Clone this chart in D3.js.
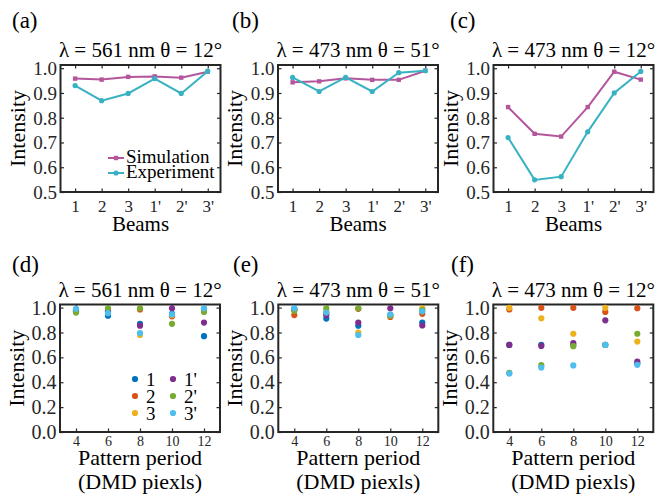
<!DOCTYPE html>
<html><head><meta charset="utf-8">
<script src="https://cdn.jsdelivr.net/npm/d3@7/dist/d3.min.js"></script>
<style>
body{margin:0;background:#fff;}
svg text{font-family:"Liberation Serif","Times New Roman",Times,"DejaVu Serif",serif !important;}
</style></head>
<body><svg id="c" width="660" height="500"></svg>
<script>
// ---- data ----
const beams = ["1","2","3","1'","2'","3'"];
const simA = [0.958,0.954,0.965,0.967,0.962,0.986];
const expA = [0.930,0.869,0.898,0.958,0.898,0.988];
const simB = [0.943,0.947,0.959,0.953,0.953,0.990];
const expB = [0.963,0.906,0.963,0.906,0.982,0.990];
const simC = [0.843,0.735,0.724,0.843,0.986,0.954];
const expC = [0.720,0.549,0.562,0.743,0.900,0.987];

const periods = [4,6,8,10,12];
const seriesNames = ["1","2","3","1'","2'","3'"];
// rows: series 1,2,3,1',2',3' ; columns: periods 4..12
const scatD = [
  [0.980,0.935,0.870,0.950,0.770],
  [0.970,0.970,0.985,0.930,0.990],
  [0.970,0.965,0.780,0.940,0.975],
  [0.980,0.975,0.855,0.995,0.880],
  [0.960,0.995,0.995,0.870,0.965],
  [0.990,0.955,0.795,0.945,0.995]
];
const scatE = [
  [0.990,0.912,0.855,0.940,0.880],
  [0.940,0.950,0.990,0.925,0.950],
  [0.980,0.970,0.800,0.935,0.995],
  [0.985,0.940,0.880,0.995,0.856],
  [0.975,0.995,0.995,0.935,0.980],
  [0.995,0.960,0.780,0.946,0.970]
];
const scatF = [
  [0.700,0.700,0.700,0.700,0.550],
  [0.985,0.998,0.998,0.965,0.995],
  [0.998,0.914,0.790,0.998,0.727],
  [0.700,0.692,0.715,0.898,0.565],
  [0.475,0.537,0.690,0.700,0.790],
  [0.470,0.518,0.535,0.700,0.540]
];
const yTicksTop = [0.5,0.6,0.7,0.8,0.9,1.0];
const yTicksBot = [0.0,0.2,0.4,0.6,0.8,1.0];

// ---- styles ----
const simColor = "#b4569c", expColor = "#38b2c2";
const scatColors = ["#0072BD","#D95319","#EDB120","#7E2F8E","#77AC30","#4DBEEE"];
const ink = "#262626";
const FONT = "'Liberation Serif','Times New Roman',Times,'DejaVu Serif',serif";

const svg = d3.select("#c");
const W = 160;

function box(g, x, y, h, xTicks, xFmt, yTicks, xFont, xPad, yFont) {
  const gx = g.append("g").attr("transform", `translate(0,${h})`)
    .call(d3.axisBottom(x).tickValues(xTicks).tickFormat(xFmt).tickSize(-3.5).tickPadding(xPad));
  gx.selectAll("text").style("font-size", xFont + "px");
  g.append("g").call(d3.axisTop(x).tickValues(xTicks).tickFormat("").tickSize(-3.5));
  const gy = g.append("g")
    .call(d3.axisLeft(y).tickValues(yTicks).tickFormat(d3.format(".1f")).tickSize(-3.5).tickPadding(3.5));
  gy.selectAll("text").style("font-size", yFont + "px").attr("dy", "0.33em");
  g.append("g").attr("transform", `translate(${W},0)`)
    .call(d3.axisRight(y).tickValues(yTicks).tickFormat("").tickSize(-3.5));
  g.selectAll(".domain").remove();
  g.selectAll("g").attr("font-family", FONT);
  g.selectAll(".tick line").attr("stroke", ink).attr("stroke-width", 1.2);
  g.selectAll(".tick text").attr("fill", ink);
  g.append("rect").attr("x", 0).attr("y", 0).attr("width", W).attr("height", h)
    .attr("fill", "none").attr("stroke", ink).attr("stroke-width", 2);
}

function texts(left, top, h, label, labelX, labelY, title, titleY) {
  svg.append("text").attr("x", labelX).attr("y", labelY).text(label)
    .style("font-size", "23px").attr("fill", "#000");
  svg.append("text").attr("x", left + W / 2).attr("y", titleY).attr("text-anchor", "middle")
    .text(title).style("font-size", "21px").attr("fill", "#000");
  svg.append("text").attr("transform", `translate(${left - 36},${top + h / 2}) rotate(-90)`)
    .attr("text-anchor", "middle").text("Intensity").style("font-size", "22px").attr("fill", "#000");
}

// ---- top row ----
const topPanels = [
  {left: 60.5, label: "(a)", lx: 12, title: "λ = 561 nm θ = 12°", sim: simA, exp: expA, legend: true},
  {left: 278, label: "(b)", lx: 232, title: "λ = 473 nm θ = 51°", sim: simB, exp: expB},
  {left: 493.5, label: "(c)", lx: 450, title: "λ = 473 nm θ = 12°", sim: simC, exp: expC}
];
const topY = 65, topH = 127;
topPanels.forEach(p => {
  const g = svg.append("g").attr("transform", `translate(${p.left},${topY})`);
  const x = d3.scaleLinear().domain([0.45, 6.48]).range([0, W]);
  const y = d3.scaleLinear().domain([0.5, 1.013]).range([topH, 0]);
  box(g, x, y, topH, [1,2,3,4,5,6], (d) => beams[d - 1], yTicksTop, 17, 8, 19);
  const line = d3.line().x((d, i) => x(i + 1)).y(d => y(d));
  g.append("path").datum(p.sim).attr("d", line).attr("fill", "none")
    .attr("stroke", simColor).attr("stroke-width", 2);
  g.selectAll(".sq").data(p.sim).enter().append("rect")
    .attr("x", (d, i) => x(i + 1) - 2.2).attr("y", d => y(d) - 2.2)
    .attr("width", 4.4).attr("height", 4.4).attr("fill", simColor);
  g.append("path").datum(p.exp).attr("d", line).attr("fill", "none")
    .attr("stroke", expColor).attr("stroke-width", 2);
  g.selectAll(".dt").data(p.exp).enter().append("circle")
    .attr("cx", (d, i) => x(i + 1)).attr("cy", d => y(d)).attr("r", 2.6).attr("fill", expColor);
  texts(p.left, topY, topH, p.label, p.lx, 28, p.title, 57);
  svg.append("text").attr("x", p.left + W / 2).attr("y", 231).attr("text-anchor", "middle")
    .text("Beams").style("font-size", "21px").attr("fill", "#000");
  if (p.legend) {
    const lg = svg.append("g");
    [["Simulation", simColor, "sq", 158], ["Experiment", expColor, "dt", 173]].forEach(r => {
      lg.append("line").attr("x1", 108).attr("x2", 124).attr("y1", r[3]).attr("y2", r[3])
        .attr("stroke", r[1]).attr("stroke-width", 2);
      if (r[2] === "sq") lg.append("rect").attr("x", 113.8).attr("y", r[3] - 2.2).attr("width", 4.4).attr("height", 4.4).attr("fill", r[1]);
      else lg.append("circle").attr("cx", 116).attr("cy", r[3]).attr("r", 2.6).attr("fill", r[1]);
      lg.append("text").attr("x", 126).attr("y", r[3] + 5).text(r[0]).style("font-size", "19px").attr("fill", "#000");
    });
  }
});

// ---- bottom row ----
const botPanels = [
  {left: 60, label: "(d)", lx: 12, title: "λ = 561 nm θ = 12°", data: scatD, legend: true},
  {left: 278.3, label: "(e)", lx: 233, title: "λ = 473 nm θ = 51°", data: scatE},
  {left: 493.3, label: "(f)", lx: 451, title: "λ = 473 nm θ = 12°", data: scatF}
];
const botY = 304.5, botH = 127.5;
botPanels.forEach(p => {
  const g = svg.append("g").attr("transform", `translate(${p.left},${botY})`);
  const x = d3.scaleLinear().domain([3, 13]).range([0, W]);
  const y = d3.scaleLinear().domain([0, 1.025]).range([botH, 0]);
  box(g, x, y, botH, periods, d3.format("d"), yTicksBot, 14, 4.5, 20);
  p.data.forEach((vals, s) => {
    g.selectAll(".s" + s).data(vals).enter().append("circle")
      .attr("cx", (d, i) => x(periods[i])).attr("cy", d => y(d)).attr("r", 3.1)
      .attr("fill", scatColors[s]);
  });
  texts(p.left, botY, botH, p.label, p.lx, 272, p.title, 297);
  svg.append("text").attr("x", p.left + W / 2).attr("y", 465).attr("text-anchor", "middle")
    .text("Pattern period").style("font-size", "22px").attr("fill", "#000");
  svg.append("text").attr("x", p.left + W / 2).attr("y", 489).attr("text-anchor", "middle")
    .text("(DMD piexls)").style("font-size", "22px").attr("fill", "#000");
  if (p.legend) {
    seriesNames.forEach((n, s) => {
      const col = Math.floor(s / 3), row = s % 3;
      const cx = col === 0 ? 135 : 173, cy = 379 + row * 17;
      svg.append("circle").attr("cx", cx).attr("cy", cy).attr("r", 3.1).attr("fill", scatColors[s]);
      svg.append("text").attr("x", cx + 11).attr("y", cy + 7).text(n).style("font-size", "19px").attr("fill", "#000");
    });
  }
});
svg.selectAll("text").attr("font-family", FONT);
</script></body></html>
